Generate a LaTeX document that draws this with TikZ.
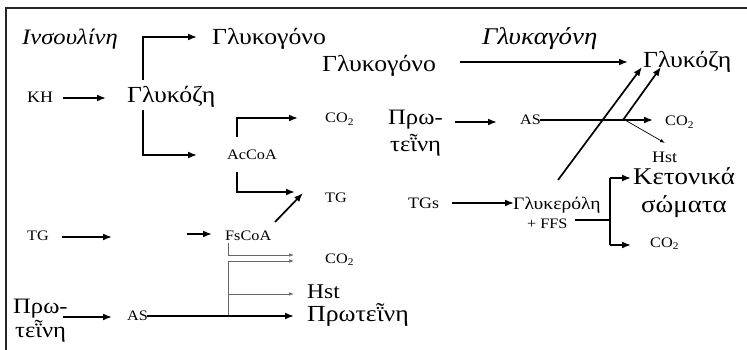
\documentclass[tikz,border=0pt]{standalone}
\usepackage{fontspec}
\setmainfont{Liberation Serif}[FakeStretch=1.12]
\newfontfamily\grfont{Liberation Serif}[FakeStretch=1.12]
\usetikzlibrary{arrows.meta}
\begin{document}
\begin{tikzpicture}[x=1pt,y=-1pt,
  every node/.style={inner sep=0pt, anchor=base west},
  gbig/.style={font=\grfont\fontsize{23}{26}\selectfont},
  gital/.style={font=\grfont\fontsize{22}{25}\selectfont\itshape},
  gmid/.style={font=\grfont\fontsize{22}{25}\selectfont},
  gsmall/.style={font=\grfont\fontsize{17.5}{20}\selectfont},
  lat/.style={font=\fontsize{14.5}{17}\selectfont},
  latbig/.style={font=\fontsize{21}{24}\selectfont},
  thk/.style={line width=1.7pt, -{Latex[length=9pt,width=7pt]}},
  thkline/.style={line width=1.7pt},
  thn/.style={line width=0.7pt, draw=black!60, -{Latex[length=5pt,width=3.5pt]}},
  thnb/.style={line width=0.7pt, -{Latex[length=5pt,width=3.5pt]}},
]
\useasboundingbox (0,0) rectangle (747,350);
\draw[line width=1.4pt, black!85] (6,350) -- (6,8) -- (747,8);

% ---------- left half ----------
\node[gital] (ins) at (22,45) {Ινσουλίνη};
\node[gbig] (glk1) at (212,45) {Γλυκογόνο};
\node[lat, font=\fontsize{16}{18}\selectfont] (kh) at (27,103) {KH};
\node[gbig] (glz1) at (127,103) {Γλυκόζη};
\node[lat] (acc) at (227,160) {AcCoA};
\node[lat] (co2a) at (325,123) {CO\textsubscript{2}};
\node[lat] (tgm) at (325,202) {TG};
\node[lat] (tgl) at (27,240) {TG};
\node[lat] (fs) at (225,240) {FsCoA};
\node[lat] (co2b) at (325,263) {CO\textsubscript{2}};
\node[latbig] (hst) at (307,298) {Hst};
\node[gbig] (prot) at (307,321) {Πρωτεῗνη};
\node[gmid] (pra) at (13,313) {Πρω-};
\node[gmid] (prb) at (15,337) {τεῗνη};
\node[lat] (asl) at (127,320) {AS};

\coordinate (j1a) at (143,80);
\coordinate (j1b) at (143,110);
\coordinate (e1a) at (197,37);
\coordinate (e1b) at (197,155);
\draw[thk] (j1a) |- (e1a);
\draw[thk] (j1b) |- (e1b);
\coordinate (khs) at (63,98);
\coordinate (khe) at (106,98);
\draw[thk] (khs) -- (khe);

\coordinate (j2) at (237,137);
\coordinate (e2) at (298,118);
\draw[thk] (j2) |- (e2);
\coordinate (j3) at (237,172);
\coordinate (e3) at (295,192);
\draw[thk] (j3) |- (e3);
\coordinate (d1s) at (275,222);
\coordinate (d1e) at (303,193);
\draw[thk] (d1s) -- (d1e);

\coordinate (tgs) at (62,237);
\coordinate (tge) at (112,237);
\draw[thk] (tgs) -- (tge);
\coordinate (fsin) at (187,234);
\coordinate (fsine) at (212,234);
\draw[thk] (fsin) -- (fsine);

\coordinate (t1s) at (228,243); \coordinate (t1e) at (294,255);
\draw[thn] (t1s) |- (t1e);
\coordinate (t2s) at (228,316); \coordinate (t2e) at (294,261);
\draw[thn] (t2s) |- (t2e);
\coordinate (t3s) at (228,294); \coordinate (t3e) at (294,294);
\draw[thn] (t3s) -- (t3e);

\coordinate (pas) at (63,317); \coordinate (pae) at (112,317);
\draw[thk] (pas) -- (pae);
\coordinate (ass) at (147,316); \coordinate (ase) at (294,316);
\draw[thk] (ass) -- (ase);

% ---------- right half ----------
\node[gital, font=\grfont\fontsize{24}{27}\selectfont\itshape] (glg) at (482,45) {Γλυκαγόνη};
\node[gbig] (glk2) at (322,72) {Γλυκογόνο};
\node[gbig] (glz2) at (643,68) {Γλυκόζη};
\node[gmid] (prc) at (388,125) {Πρω-};
\node[gmid] (prd) at (390,152) {τεῗνη};
\node[lat] (asr) at (520,125) {AS};
\node[lat] (co2r) at (665,126) {CO\textsubscript{2}};
\node[lat, font=\fontsize{16}{18}\selectfont] (hstr) at (652,163) {Hst};
\node[lat, font=\fontsize{16}{18}\selectfont] (tgs2) at (408,208) {TGs};
\node[gsmall] (glr) at (513,209) {Γλυκερόλη};
\node[lat] (ffs) at (527,228) {+ FFS};
\node[gmid, font=\grfont\fontsize{24}{27}\selectfont] (ket) at (633,185) {Κετονικά};
\node[gmid, font=\grfont\fontsize{24}{27}\selectfont, anchor=base] (som) at (684,212) {σώματα};
\node[lat] (co2c) at (650,247) {CO\textsubscript{2}};

\coordinate (g2s) at (460,62); \coordinate (g2e) at (628,62);
\draw[thk] (g2s) -- (g2e);
\coordinate (p2s) at (455,122); \coordinate (p2e) at (497,122);
\draw[thk] (p2s) -- (p2e);
\coordinate (a2s) at (540,120); \coordinate (a2e) at (653,120);
\draw[thk] (a2s) -- (a2e);
\coordinate (hs) at (625,120); \coordinate (he) at (665,143);
\draw[thnb] (hs) -- (he);
\coordinate (dl1) at (558,180); \coordinate (dl2) at (642,67);
\draw[thk] (dl1) -- (dl2);
\coordinate (dr1) at (623,120); \coordinate (dr2) at (661,67);
\draw[thk] (dr1) -- (dr2);
\coordinate (ts) at (452,203); \coordinate (te) at (514,203);
\draw[thk] (ts) -- (te);
\coordinate (fs1) at (575,220); \coordinate (fj) at (610,220);
\coordinate (fjt) at (610,178); \coordinate (fjb) at (610,245);
\draw[thkline] (fs1) -- (fj);
\draw[thkline] (fjt) -- (fjb);
\coordinate (fk) at (631,178); \coordinate (fc) at (631,245);
\draw[thk] (fjt) -- (fk);
\draw[thk] (fjb) -- (fc);
\end{tikzpicture}
\end{document}
